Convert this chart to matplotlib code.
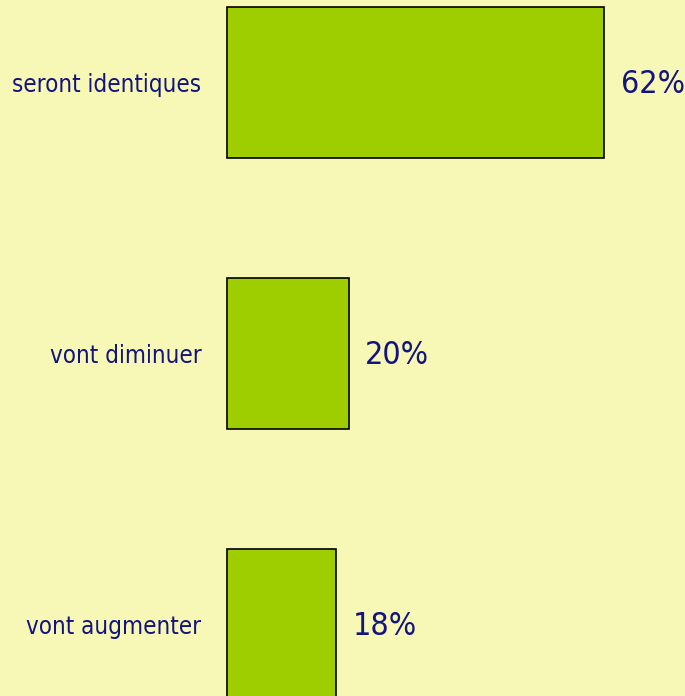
import matplotlib
matplotlib.use('Agg')
import matplotlib.pyplot as plt

# Réponses et pourcentages
categories = ['seront identiques', 'vont diminuer', 'vont augmenter']
pourcentages = [62, 20, 18]

fond = '#F7F8B6'
vert = '#9ECE00'
marine = '#14147E'

fig = plt.figure(figsize=(6.85, 6.96), dpi=100, facecolor=fond)
ax = fig.add_axes([0, 0, 1, 1])
ax.set_facecolor(fond)

ypos = list(range(len(categories)))
ax.barh(ypos, pourcentages, height=0.555, color=vert, edgecolor='black', linewidth=1.2)

for y, nom, p in zip(ypos, categories, pourcentages):
    ax.text(-4.2, y + 0.008, nom, ha='right', va='center', color=marine, fontsize=17.3,
            family='DejaVu Sans', stretch='condensed')
    ax.text(p + 2.7, y + 0.008, f'{p}%', ha='left', va='center', color=marine, fontsize=23,
            family='DejaVu Sans', stretch='condensed')

ax.set_xlim(-37.3, 75.3)
ax.set_ylim(2.264, -0.3044)
ax.axis('off')

fig.savefig('out.png', dpi=100, facecolor=fond)
